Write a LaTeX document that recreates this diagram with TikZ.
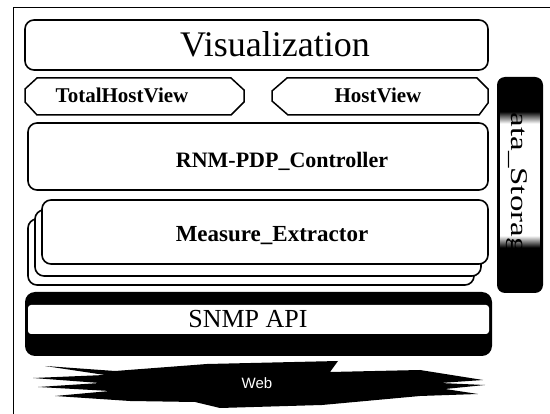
\documentclass[tikz,border=0pt]{standalone}
\usepackage{fontspec}
\setmainfont{Liberation Serif}
\newfontfamily\websans{Liberation Sans}
\begin{document}
\begin{tikzpicture}[x=1pt,y=-1pt,
  layerbox/.style={draw=black, line width=1.6pt, rounded corners=9pt, fill=white},
  viewbox/.style={draw=black, line width=1.5pt, fill=white},
  boldlabel/.style={inner sep=0pt, anchor=base, font=\bfseries},
  plainlabel/.style={inner sep=0pt, anchor=base}]
\useasboundingbox (0,0) rectangle (550,414);

% outer frame (left and top edges)
\draw[line width=0.9pt] (13,414) -- (13,7) -- (550,7);

% Visualization layer
\draw[layerbox] (25,20) rectangle (488,70);
\node[plainlabel, font=\fontsize{36}{40}\selectfont] (vis) at (275,57) {Visualization};

% view boxes
\draw[viewbox] (25,89) -- (37,78) -- (231,78) -- (244,90) -- (244,102) -- (231,115) -- (37,115) -- (25,102) -- cycle;
\node[boldlabel, font=\bfseries\fontsize{21}{24}\selectfont] (thv) at (122,103) {TotalHostView};
\draw[viewbox] (272,91) -- (287,78) -- (477,78) -- (488,89) -- (488,103) -- (479,115) -- (288,115) -- (272,101) -- cycle;
\node[boldlabel, font=\bfseries\fontsize{21}{24}\selectfont] (hv) at (378,103) {HostView};

% controller layer
\draw[layerbox] (28,123) rectangle (488,190);
\node[boldlabel, font=\bfseries\fontsize{22}{26}\selectfont] (ctl) at (282,168) {RNM-PDP\_Controller};

% stacked extractor layers
\draw[layerbox] (28,219) rectangle (474,285);
\draw[layerbox] (35,210) rectangle (481,276);
\draw[layerbox] (42,200) rectangle (488,264);
\node[boldlabel, font=\bfseries\fontsize{23}{26}\selectfont] (mex) at (272,242) {Measure\_Extractor};

% data storage column: black bar with a white window fading in and out
\fill[black, rounded corners=8pt] (497,77) rectangle (543,293);
\fill[white] (500,112) rectangle (540,250);
\node[rotate=-90, anchor=base west, inner sep=0pt] (ds) at (511,89)
  {\scalebox{1.37}[1]{\fontsize{24}{28}\selectfont Data\_Storage}};
\fill[black] (500,80) rectangle (540,112.2);
\foreach \k in {0,...,11} {
  \pgfmathsetmacro\op{1-(\k+0.5)/12}
  \fill[black, fill opacity=\op] (500,112+\k) rectangle (540,113.05+\k);
  \pgfmathsetmacro\opb{(\k+0.5)/12}
  \fill[black, fill opacity=\opb] (500,236+\k) rectangle (540,237.05+\k);
}
\fill[black] (500,247.8) rectangle (540,285);

% SNMP layer
\fill[black, rounded corners=10pt] (25,292) rectangle (492,356);
\fill[white, rounded corners=3pt] (28,305) rectangle (489,334);
\node[plainlabel, font=\fontsize{26}{30}\selectfont] (snmp) at (248,328) {SNMP API};

% web burst
\fill[black] (45,366) -- (115,371) -- (207,364) -- (338,361) -- (330,372)
  -- (420,370) -- (483,380) -- (440,383) -- (485,385) -- (445,389)
  -- (478,394) -- (420,396) -- (322,405) -- (220,408) -- (195,402)
  -- (130,401) -- (55,396) -- (110,391) -- (38,387) -- (100,383)
  -- (33,378) -- (105,375) -- cycle;
\node[plainlabel, text=white, font=\websans\fontsize{15}{18}\selectfont] (web) at (257,389) {Web};
\end{tikzpicture}
\end{document}
